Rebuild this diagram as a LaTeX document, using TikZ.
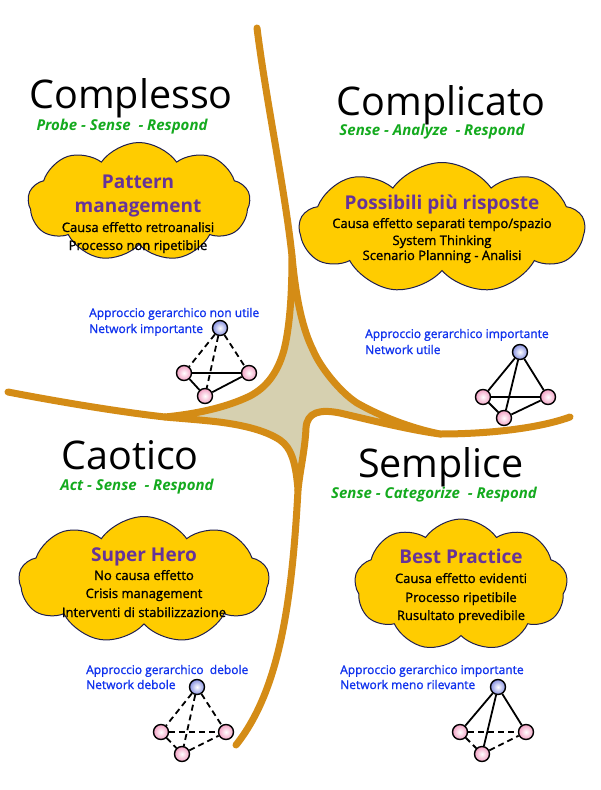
\documentclass[tikz,border=0pt]{standalone}
\usepackage{fontspec}
\setmainfont{Open Sans}
\newfontfamily\semibold[FakeBold=1.3]{Open Sans}
\usetikzlibrary{shapes.symbols}

\definecolor{curve}{RGB}{212,140,22}
\definecolor{khaki}{RGB}{214,208,176}
\definecolor{cloudfill}{RGB}{255,204,0}
\definecolor{cloudline}{RGB}{30,30,80}
\definecolor{headcol}{RGB}{102,51,153}
\definecolor{mottocol}{RGB}{20,170,30}
\definecolor{notecol}{RGB}{17,51,238}
\definecolor{pinknode}{RGB}{242,160,195}
\definecolor{bluenode}{RGB}{135,145,225}

\begin{document}
\begin{tikzpicture}[x=1pt,y=-1pt,
  quadname/.style={anchor=base,inner sep=0pt,font=\fontsize{39.5}{42}\selectfont},
  motto/.style={anchor=base,inner sep=0pt,text=mottocol,font=\fontsize{15}{17}\selectfont\bfseries\itshape},
  bubble/.style={cloud,draw=cloudline,fill=cloudfill,line width=1pt,cloud puffs=9,cloud puff arc=110,cloud ignores aspect,inner sep=0pt},
  head/.style={anchor=base,inner sep=1pt,text=headcol,font=\fontsize{19}{21}\selectfont\bfseries},
  item/.style={anchor=base,inner sep=1pt,font=\semibold\fontsize{13}{15}\selectfont},
  note/.style={anchor=base west,inner sep=1pt,text=notecol,font=\semibold\fontsize{12}{14}\selectfont},
  agent/.style={circle,draw,line width=1.4pt,inner sep=0pt,minimum size=15pt,inner color=white,outer color=pinknode},
  boss/.style={agent,outer color=bluenode},
  link/.style={line width=1.8pt},
  loose/.style={link,dash pattern=on 6pt off 4pt},
  arm/.style={draw=curve,line width=7pt,line cap=round,line join=round}]

\useasboundingbox (0,0) rectangle (600,790);
\fill[white] (0,0) rectangle (600,790);

% the cross
\fill[khaki] (292,256) .. controls (296,300) and (303,330) .. (313,350)
  .. controls (320,367) and (340,392) .. (357,403)
  .. controls (380,416) and (410,428) .. (440,434)
  .. controls (410,430) and (370,420) .. (340,413)
  .. controls (320,409) and (307,412) .. (306,428)
  .. controls (305,450) and (300,470) .. (298,490)
  .. controls (296,465) and (292,448) .. (280,440)
  .. controls (265,430) and (240,424) .. (210,421)
  .. controls (190,419) and (175,418) .. (165,417)
  .. controls (195,414) and (225,408) .. (250,396)
  .. controls (265,388) and (277,375) .. (284,350)
  .. controls (289,330) and (292,300) .. cycle;
\draw[arm] (257,28) .. controls (266,100) and (285,190) .. (292,256);
\draw[arm] (8,392) .. controls (60,402) and (120,412) .. (165,417);
\draw[arm] (440,434) .. controls (490,434) and (540,428) .. (570,417);
\draw[arm] (298,490) .. controls (292,600) and (280,690) .. (236,745);
\draw[arm] (292,256) .. controls (296,300) and (303,330) .. (313,350)
  .. controls (320,367) and (340,392) .. (357,403)
  .. controls (380,416) and (410,428) .. (440,434)
  .. controls (410,430) and (370,420) .. (340,413)
  .. controls (320,409) and (307,412) .. (306,428)
  .. controls (305,450) and (300,470) .. (298,490)
  .. controls (296,465) and (292,448) .. (280,440)
  .. controls (265,430) and (240,424) .. (210,421)
  .. controls (190,419) and (175,418) .. (165,417)
  .. controls (195,414) and (225,408) .. (250,396)
  .. controls (265,388) and (277,375) .. (284,350)
  .. controls (289,330) and (292,300) .. cycle;

% Complesso
\node[quadname] (D1) at (131,108) {Complesso};
\node[motto] (M1) at (122,130) {Probe - Sense \ - Respond};
\node[bubble,minimum width=222pt,minimum height=119pt] (C1) at (139,202) {};
\node[head] (H1a) at (138,188) {Pattern};
\node[head] (H1b) at (138,212) {management};
\node[item] (I1a) at (138,232) {Causa effetto retroanalisi};
\node[item] (I1b) at (138,250) {Processo non ripetibile};
\node[note] (N1a) at (88,317) {Approccio gerarchico non utile};
\node[note] (N1b) at (88,333) {Network importante};

% Complicato
\node[quadname] (D2) at (441,115) {Complicato};
\node[motto] (M2) at (432,135) {Sense - Analyze \ - Respond};
\node[bubble,minimum width=285pt,minimum height=131pt] (C2) at (442,228) {};
\node[head] (H2) at (442,209) {Possibili più risposte};
\node[item] (I2a) at (442,228) {Causa effetto separati tempo/spazio};
\node[item] (I2b) at (442,245) {System Thinking};
\node[item] (I2c) at (442,260) {Scenario Planning - Analisi};
\node[note] (N2a) at (364,338) {Approccio gerarchico importante};
\node[note] (N2b) at (364,354) {Network utile};

% Caotico
\node[quadname] (D3) at (130,469) {Caotico};
\node[motto] (M3) at (137,490) {Act - Sense \ - Respond};
\node[bubble,minimum width=250pt,minimum height=127pt] (C3) at (144,580) {};
\node[head] (H3) at (144,561) {Super Hero};
\node[item] (I3a) at (144,580) {No causa effetto};
\node[item] (I3b) at (144,598) {Crisis management};
\node[item] (I3c) at (144,617) {Interventi di stabilizzazione};
\node[note] (N3a) at (85,674) {Approccio gerarchico \ debole};
\node[note] (N3b) at (85,689) {Network debole};

% Semplice
\node[quadname] (D4) at (441,477) {Semplice};
\node[motto] (M4) at (434,498) {Sense - Categorize \ - Respond};
\node[bubble,minimum width=213pt,minimum height=132pt] (C4) at (461,585) {};
\node[head] (H4) at (461,563) {Best Practice};
\node[item] (I4a) at (461,583) {Causa effetto evidenti};
\node[item] (I4b) at (461,602) {Processo ripetibile};
\node[item] (I4c) at (461,620) {Rusultato prevedibile};
\node[note] (N4a) at (339,674) {Approccio gerarchico importante};
\node[note] (N4b) at (339,689) {Network meno rilevante};

% networks
\node[boss] (T1) at (220,328) {};
\node[agent] (L1) at (184,373) {};
\node[agent] (R1) at (249,373) {};
\node[agent] (B1) at (205,396) {};
\draw[loose] (T1) -- (L1);
\draw[loose] (T1) -- (B1);
\draw[loose] (T1) -- (R1);
\draw[link] (L1) -- (R1);
\draw[link] (L1) -- (B1);
\draw[link] (B1) -- (R1);

\node[boss] (T2) at (520,352) {};
\node[agent] (L2) at (483,397) {};
\node[agent] (R2) at (548,397) {};
\node[agent] (B2) at (504,418) {};
\draw[link] (T2) -- (L2);
\draw[link] (T2) -- (B2);
\draw[link] (T2) -- (R2);
\draw[link] (L2) -- (R2);
\draw[link] (L2) -- (B2);
\draw[link] (B2) -- (R2);

\node[boss] (T3) at (197,687) {};
\node[agent] (L3) at (161,732) {};
\node[agent] (R3) at (226,732) {};
\node[agent] (B3) at (182,754) {};
\draw[loose] (T3) -- (L3);
\draw[loose] (T3) -- (B3);
\draw[loose] (T3) -- (R3);
\draw[loose] (L3) -- (R3);
\draw[loose] (L3) -- (B3);
\draw[loose] (B3) -- (R3);

\node[boss] (T4) at (498,687) {};
\node[agent] (L4) at (460,732) {};
\node[agent] (R4) at (526,732) {};
\node[agent] (B4) at (482,754) {};
\draw[link] (T4) -- (L4);
\draw[link] (T4) -- (B4);
\draw[link] (T4) -- (R4);
\draw[loose] (L4) -- (R4);
\draw[loose] (L4) -- (B4);
\draw[loose] (B4) -- (R4);

\end{tikzpicture}
\end{document}
